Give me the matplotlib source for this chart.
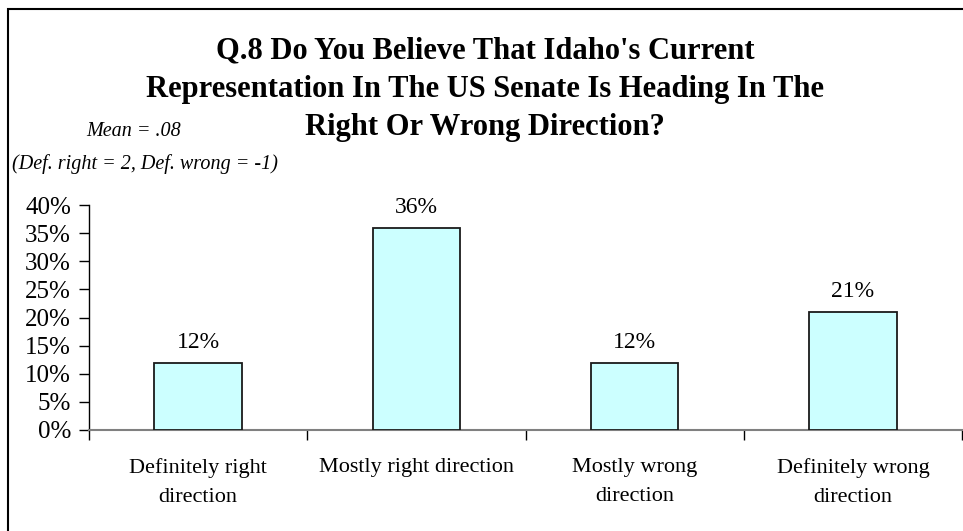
import matplotlib.pyplot as plt
from matplotlib.patches import Rectangle
from matplotlib.ticker import FuncFormatter, FixedLocator

categories = ['Definitely right\ndirection', 'Mostly right direction',
              'Mostly wrong\ndirection', 'Definitely wrong\ndirection']
values = [12, 36, 12, 21]
yticks = [0, 5, 10, 15, 20, 25, 30, 35, 40]
title_lines = ["Q.8 Do You Believe That Idaho's Current",
               "Representation In The US Senate Is Heading In The",
               "Right Or Wrong Direction?"]

plt.rcParams['font.family'] = ['Liberation Serif', 'DejaVu Serif']

fig = plt.figure(figsize=(9.63, 5.31), dpi=100)

# outer frame, runs off the right and bottom edges
fig.patches.append(Rectangle((8 / 963, -0.05), 1.0, 1 - 9 / 531 + 0.05,
                             transform=fig.transFigure, fill=False,
                             edgecolor='black', linewidth=1.5))

ax = fig.add_axes([89 / 963, 101 / 531, 873 / 963, 225 / 531])
x = range(len(values))
bars = ax.bar(x, values, width=0.4, color='#CCFFFF', edgecolor='#1a1a1a',
              linewidth=1.3, zorder=3)

for b, v in zip(bars, values):
    ax.annotate(f'{v}%', (b.get_x() + b.get_width() / 2, v),
                xytext=(0, 7), textcoords='offset points',
                ha='center', va='bottom', fontsize=17)

ax.set_xlim(-0.5, len(values) - 0.5)
ax.set_ylim(0, 40)
ax.set_yticks(yticks)
ax.yaxis.set_major_formatter(FuncFormatter(lambda v, p: f'{v:.0f}%'))
ax.tick_params(axis='y', direction='out', length=7, width=1, labelsize=18, pad=6)

# category labels sit between the boundary tick marks
ax.xaxis.set_major_locator(FixedLocator([i - 0.5 for i in range(len(values) + 1)]))
ax.xaxis.set_minor_locator(FixedLocator(list(x)))
ax.set_xticklabels([])
ax.set_xticklabels(categories, minor=True)
ax.tick_params(axis='x', which='major', direction='out', length=7, width=1)
ax.tick_params(axis='x', which='minor', length=0, labelsize=16, pad=20)
for lbl in ax.get_xticklabels(minor=True):
    lbl.set_linespacing(1.75)

for s in ['top', 'right']:
    ax.spines[s].set_visible(False)
ax.spines['bottom'].set_color('#808080')
ax.spines['bottom'].set_linewidth(1.5)
ax.spines['left'].set_linewidth(1)

# title, one line at a time
for line, ypix in zip(title_lines, [51, 90, 128]):
    fig.text(485 / 963, 1 - ypix / 531, line, ha='center', va='center',
             fontsize=22, fontweight='bold')

fig.text(134 / 963, 1 - 131 / 531, 'Mean = .08', ha='center', va='center',
         fontsize=14.5, style='italic')
fig.text(145 / 963, 1 - 164 / 531, '(Def. right = 2, Def. wrong = -1)',
         ha='center', va='center', fontsize=14.5, style='italic')

fig.savefig('out.png', dpi=100)
